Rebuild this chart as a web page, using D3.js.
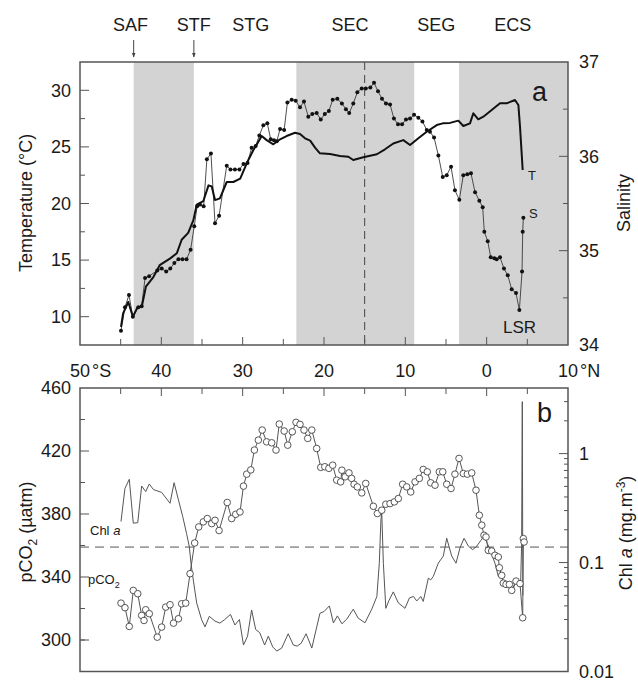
<!DOCTYPE html>
<html>
<head>
<meta charset="utf-8">
<script src="https://cdn.jsdelivr.net/npm/d3@7"></script>
<style>
  body { margin: 0; background: #fff; }
  text { font-family: "Liberation Sans", Arial, sans-serif; fill: #1a1a1a; }
</style>
</head>
<body>
<svg id="chart" width="638" height="681"></svg>
<script>
// ---- data (latitude: negative = south) ----
const tempLat = [-44.96,-44.7,-44.06,-43.5,-42.95,-42.4,-41.9,-40.98,-40.2,-38.9,-38.1,-37.5,-36.7,-36.07,-35.65,-34.84,-34.2,-33.8,-33.4,-32.8,-31.96,-31.15,-30.3,-29.5,-28.7,-28.3,-27.66,-27.05,-26.23,-25.4,-24.6,-23.56,-22.95,-22.33,-21.7,-21.1,-20.5,-19.26,-18.03,-17.0,-16.4,-15.17,-13.5,-12.5,-11.48,-10.25,-9.42,-8.4,-7.37,-6.14,-5.4,-4.5,-3.48,-2.87,-2.05,-1.64,-1.03,-0.41,0.62,1.64,2.46,3.48,3.9,4.1,4.43];
const tempC = [9.1,10.3,11.3,10.0,10.8,10.9,12.65,13.5,14.55,15.15,15.6,16.8,17.4,18.5,19.9,20.2,21.6,21.5,20.3,20.45,21.9,21.9,22.2,23.55,24.7,25.17,25.96,25.6,25.23,25.67,25.96,26.25,26.14,25.76,25.55,24.93,24.43,24.37,24.2,24.13,23.84,24.08,24.35,24.79,25.3,25.6,25.17,25.76,26.34,26.93,27.08,27.12,27.32,26.85,27.08,27.97,27.44,27.67,28.26,28.85,28.85,29.14,28.7,26.78,22.96];

const salLat = [-44.96,-44.47,-43.98,-43.5,-42.83,-42.42,-42.0,-41.5,-40.5,-39.96,-39.4,-38.9,-38.4,-37.9,-37.4,-36.9,-36.4,-35.95,-35.6,-35.25,-34.8,-34.4,-33.9,-33.4,-32.9,-31.96,-31.5,-30.95,-30.4,-29.9,-29.4,-28.9,-28.4,-27.95,-27.46,-26.97,-26.55,-26.15,-25.8,-25.4,-24.9,-24.5,-23.97,-23.48,-22.95,-22.46,-21.93,-21.44,-20.9,-20.4,-19.9,-19.4,-18.93,-18.36,-17.8,-17.3,-16.9,-16.4,-15.9,-15.36,-14.87,-14.3,-13.85,-13.36,-12.87,-12.38,-11.88,-11.4,-10.9,-10.4,-9.92,-9.42,-8.93,-8.4,-7.9,-7.37,-6.97,-6.47,-5.94,-5.4,-4.91,-4.38,-3.9,-3.36,-2.87,-2.38,-1.93,-1.43,-0.9,-0.49,-0.29,0.13,0.5,0.94,1.23,1.64,2.13,2.59,3.08,3.61,4.02,4.35,4.43,4.51];
const salPsu = [34.15,34.40,34.53,34.30,34.40,34.41,34.71,34.73,34.79,34.81,34.78,34.81,34.87,34.91,34.91,34.91,35.01,35.26,35.47,35.49,35.47,35.97,36.03,35.29,35.37,35.90,35.86,35.86,35.86,35.92,35.93,36.09,36.11,36.22,36.33,36.35,36.18,36.17,36.16,36.29,36.28,36.57,36.60,36.59,36.52,36.58,36.42,36.45,36.46,36.39,36.45,36.48,36.60,36.61,36.56,36.50,36.46,36.56,36.68,36.72,36.72,36.73,36.78,36.69,36.61,36.56,36.55,36.40,36.34,36.34,36.39,36.40,36.44,36.41,36.37,36.28,36.26,36.20,36.01,35.78,35.80,35.89,35.64,35.54,35.80,35.81,35.82,35.62,35.53,35.46,35.20,35.10,34.93,34.92,34.91,34.93,34.81,34.74,34.59,34.55,34.37,34.78,35.20,35.35];

const pco2Lat = [-44.96,-44.47,-43.94,-43.45,-42.9,-42.42,-42.13,-41.92,-41.48,-40.5,-39.96,-39.46,-38.93,-38.5,-37.9,-37.5,-37.0,-36.47,-35.9,-35.4,-34.84,-34.35,-33.8,-33.4,-32.9,-31.9,-31.35,-30.86,-30.33,-29.9,-29.5,-29.0,-28.56,-28.07,-27.6,-27.05,-26.43,-25.9,-25.5,-24.9,-24.46,-23.9,-23.44,-22.95,-22.46,-22.0,-21.5,-20.9,-20.4,-19.9,-19.4,-18.93,-18.44,-17.95,-17.8,-17.4,-16.93,-16.6,-16.3,-15.9,-15.36,-14.87,-13.93,-13.44,-12.9,-12.4,-11.88,-11.35,-10.86,-10.33,-9.83,-9.34,-8.8,-8.28,-7.8,-7.3,-6.88,-6.35,-5.82,-5.4,-4.91,-4.38,-3.9,-3.4,-2.87,-2.38,-1.84,-1.31,-0.9,-0.6,-0.33,-0.08,0.2,0.62,1.02,1.43,1.56,1.85,2.05,2.38,2.79,3.08,3.61,4.1,4.43,4.51,4.6];
const pco2Val = [323.4,320.5,308.6,331.5,329.4,315.6,312.4,319.2,316.7,301.8,308.2,320.9,322.4,310.7,313.5,323.0,323.4,342.1,361.6,371.8,375.0,377.1,373.9,376.0,369.5,387.3,377.1,379.8,381.3,397.7,405.3,408.0,420.6,426.9,433.3,425.8,425.2,420.6,437.1,432.7,423.7,432.2,438.2,436.9,433.3,428.0,433.3,421.6,409.6,410.0,409.0,411.0,401.5,400.4,407.8,403.6,406.1,402.6,398.9,397.2,393.4,399.4,384.9,380.3,382.4,386.2,386.6,387.7,389.8,398.9,397.2,394.0,400.4,402.6,408.3,406.8,399.8,398.3,406.8,406.8,398.9,396.2,405.3,415.3,405.7,405.3,406.1,395.1,379.2,372.9,366.5,365.4,356.9,356.5,353.8,352.7,345.9,341.0,336.1,335.3,335.3,331.5,337.4,335.8,314.1,364.4,362.2];

const chlLat = [-44.96,-44.47,-43.94,-43.45,-42.9,-42.42,-41.92,-41.48,-40.98,-39.96,-38.93,-38.43,-37.9,-37.37,-36.9,-36.56,-36.35,-36.07,-35.65,-35.04,-34.63,-34.1,-33.4,-32.8,-32.2,-31.5,-30.95,-30.4,-29.9,-29.4,-28.9,-28.4,-27.9,-27.3,-26.85,-26.3,-25.8,-25.2,-24.4,-23.77,-23.3,-22.8,-22.2,-21.5,-20.5,-20.0,-19.34,-18.84,-18.35,-17.8,-17.2,-16.4,-15.8,-14.96,-14.13,-13.5,-13.2,-13.0,-12.9,-12.7,-12.4,-12.0,-11.48,-10.86,-10.04,-9.5,-9.0,-8.6,-8.1,-7.8,-7.17,-6.88,-6.56,-5.95,-5.33,-4.91,-4.3,-3.77,-3.28,-2.78,-2.25,-1.72,-1.22,-0.73,-0.33,0.08,0.53,1.02,1.43,1.85,2.25,2.87,3.28,3.61,3.9,4.18,4.3,4.38,4.45];
const chlVal = [0.238,0.48,0.581,0.230,0.232,0.504,0.448,0.526,0.468,0.440,0.35,0.541,0.377,0.264,0.185,0.140,0.0977,0.069,0.0424,0.0298,0.0257,0.0321,0.0290,0.0278,0.0300,0.0334,0.0267,0.0300,0.0175,0.0211,0.0367,0.0243,0.0227,0.0175,0.0211,0.0168,0.0154,0.0164,0.0222,0.0175,0.0171,0.0182,0.0222,0.0164,0.0342,0.0355,0.0400,0.0279,0.0324,0.0274,0.0302,0.0373,0.0309,0.0280,0.0373,0.0488,0.0986,0.246,0.293,0.0986,0.0380,0.0451,0.0538,0.0426,0.038,0.0473,0.0488,0.0444,0.0488,0.044,0.0719,0.0693,0.0746,0.0986,0.1148,0.167,0.1148,0.0986,0.1364,0.167,0.1415,0.1313,0.1415,0.159,0.174,0.150,0.125,0.0986,0.0746,0.0719,0.0644,0.0594,0.0575,0.0693,0.0667,0.0655,0.15,3.0,0.05];

// zones and fronts
const bandLat = [[-43.4, -36.0], [-23.4, -8.9], [-3.4, 10]];
const zoneNames = ["SAF", "STF", "STG", "SEC", "SEG", "ECS"];
const zoneLat = [-43.8, -36.0, -29.0, -16.8, -6.2, 3.2];
const arrowLat = [-43.4, -36.0];
const eqDashLat = -15;       // vertical dashed line, panel a
const atmCO2 = 359;          // horizontal dashed line, panel b

const xTicks = [-50, -40, -30, -20, -10, 0, 10];
const tTicks = [10, 15, 20, 25, 30];
const sTicks = [34, 35, 36, 37];
const pTicks = [300, 340, 380, 420, 460];
const cTicks = [0.01, 0.1, 1];

// ---- layout ----
const svg = d3.select("#chart");
const L = 80, R = 568;
const aTop = 62, aBot = 345, bTop = 388, bBot = 671.5;
const frameCol = "#555";

const x = d3.scaleLinear().domain([-50, 10]).range([L, R]);
const yT = d3.scaleLinear().domain([7.5, 32.5]).range([aBot, aTop]);
const yS = d3.scaleLinear().domain([34, 37]).range([aBot, aTop]);
const yP = d3.scaleLinear().domain([280, 460]).range([bBot, bTop]);
const yC = d3.scaleLog().domain([0.01, 4]).range([bBot, bTop]);

// grey zone bands (panel a)
svg.append("g").selectAll("rect")
  .data(bandLat).enter().append("rect")
  .attr("x", d => x(d[0]))
  .attr("y", aTop)
  .attr("width", d => x(d[1]) - x(d[0]))
  .attr("height", aBot - aTop)
  .attr("fill", "#d3d3d3");

// dashed lines
svg.append("line")
  .attr("x1", x(eqDashLat)).attr("x2", x(eqDashLat))
  .attr("y1", aTop).attr("y2", aBot)
  .attr("stroke", "#444").attr("stroke-width", 1)
  .attr("stroke-dasharray", "8,5");
svg.append("line")
  .attr("x1", L).attr("x2", R)
  .attr("y1", yP(atmCO2)).attr("y2", yP(atmCO2))
  .attr("stroke", "#555").attr("stroke-width", 1)
  .attr("stroke-dasharray", "9,6");

// helper: inward ticks (no labels)
function ticksY(g, scale, vals, xPos, len) {
  g.selectAll(null).data(vals).enter().append("line")
    .attr("x1", xPos).attr("x2", xPos + len)
    .attr("y1", d => scale(d)).attr("y2", d => scale(d))
    .attr("stroke", frameCol).attr("stroke-width", 1);
}
function ticksX(g, vals, yPos, len) {
  g.selectAll(null).data(vals).enter().append("line")
    .attr("x1", d => x(d)).attr("x2", d => x(d))
    .attr("y1", yPos).attr("y2", yPos + len)
    .attr("stroke", frameCol).attr("stroke-width", 1);
}

const ax = svg.append("g");
// panel a axes
const xMinor = d3.range(-45, 10, 5).filter(v => v % 10 !== 0);
const xMajor = d3.range(-40, 10, 10);
ticksX(ax, xMajor, aBot, -8);
ticksX(ax, xMinor, aBot, -6);
ticksX(ax, xMajor, bTop, 8);
ticksX(ax, xMinor, bTop, 6);

ticksY(ax, yT, tTicks, L, 9);
ticksY(ax, yT, [12.5, 17.5, 22.5, 27.5], L, 5);
ticksY(ax, yS, [35, 36], R, -9);
ticksY(ax, yS, [34.5, 35.5, 36.5], R, -5);
// panel b axes
ticksY(ax, yP, [300, 340, 380, 420], L, 9);
ticksY(ax, yP, [300, 320, 360, 400, 440], L, 5);
ticksY(ax, yC, [0.1, 1], R, -9);
const cMinor = [];
[0.01, 0.1, 1].forEach(b => d3.range(2, 10).forEach(k => { if (b * k < 4) cMinor.push(b * k); }));
ticksY(ax, yC, cMinor, R, -4);

// tick labels
const fs = 18;
function leftLabels(scale, vals) {
  ax.selectAll(null).data(vals).enter().append("text")
    .attr("x", L - 9).attr("y", d => scale(d)).attr("dy", "0.35em")
    .attr("text-anchor", "end").attr("font-size", fs)
    .text(d => d);
}
function rightLabels(scale, vals) {
  ax.selectAll(null).data(vals).enter().append("text")
    .attr("x", R + 11).attr("y", d => scale(d)).attr("dy", "0.35em")
    .attr("text-anchor", "start").attr("font-size", fs)
    .text(d => d);
}
leftLabels(yT, tTicks);
rightLabels(yS, sTicks);
leftLabels(yP, pTicks);
rightLabels(yC, cTicks);

// latitude labels between panels: number centred on tick, hemisphere appended
xTicks.forEach(v => {
  const num = String(Math.abs(v));
  const t = ax.append("text")
    .attr("y", 377).attr("font-size", fs).text(num);
  const w = t.node().getComputedTextLength();
  t.attr("x", x(v) - w / 2);
  if (v !== xTicks[0] && v !== xTicks[xTicks.length - 1]) return;
  ax.append("text")
    .attr("x", x(v) + w / 2 + 2).attr("y", 377).attr("font-size", fs)
    .text(v < 0 ? "°S" : "°N");
});

// axis titles
function vTitle(cx, cy, build) {
  const t = svg.append("text")
    .attr("transform", `translate(${cx},${cy}) rotate(-90)`)
    .attr("text-anchor", "middle").attr("font-size", fs);
  build(t);
}
vTitle(32, 203, t => t.text("Temperature (°C)"));
vTitle(630, 203, t => t.text("Salinity"));
vTitle(32, 532, t => {
  t.append("tspan").text("pCO");
  t.append("tspan").attr("font-size", 12).attr("dy", 5).text("2");
  t.append("tspan").attr("dy", -5).text(" (µatm)");
});
vTitle(632, 533, t => {
  t.append("tspan").text("Chl ");
  t.append("tspan").attr("font-style", "italic").text("a");
  t.append("tspan").text(" (mg.m");
  t.append("tspan").attr("font-size", 12).attr("dy", -7).text("-3");
  t.append("tspan").attr("dy", 7).text(")");
});

// zone labels and arrows
svg.append("defs").append("marker")
  .attr("id", "arr").attr("viewBox", "0 0 10 10")
  .attr("refX", 9).attr("refY", 5)
  .attr("markerWidth", 5).attr("markerHeight", 6)
  .attr("orient", "auto")
  .append("path").attr("d", "M0,1 L10,5 L0,9 Z").attr("fill", "#444");
svg.selectAll(".zone").data(zoneNames).enter().append("text")
  .attr("class", "zone")
  .attr("x", (d, i) => x(zoneLat[i])).attr("y", 31)
  .attr("text-anchor", "middle").attr("font-size", fs)
  .text(d => d);
arrowLat.forEach(v => {
  svg.append("line")
    .attr("x1", x(v)).attr("x2", x(v))
    .attr("y1", 40).attr("y2", 57)
    .attr("stroke", "#444").attr("stroke-width", 1)
    .attr("marker-end", "url(#arr)");
});

// ---- panel a series ----
const salData = salLat.map((d, i) => [d, salPsu[i]]);
const tempData = tempLat.map((d, i) => [d, tempC[i]]);

svg.append("path")
  .datum(salData)
  .attr("d", d3.line().x(d => x(d[0])).y(d => yS(d[1])))
  .attr("fill", "none").attr("stroke", "#3a3a3a").attr("stroke-width", 0.9);
svg.append("g").selectAll("circle")
  .data(salData).enter().append("circle")
  .attr("cx", d => x(d[0])).attr("cy", d => yS(d[1]))
  .attr("r", 2).attr("fill", "#111");

svg.append("path")
  .datum(tempData)
  .attr("d", d3.line().x(d => x(d[0])).y(d => yT(d[1])))
  .attr("fill", "none").attr("stroke", "#111").attr("stroke-width", 2)
  .attr("stroke-linejoin", "round");

// ---- panel b series ----
const chlData = chlLat.map((d, i) => [d, chlVal[i]]);
const pco2Data = pco2Lat.map((d, i) => [d, pco2Val[i]]);

svg.append("path")
  .datum(chlData)
  .attr("d", d3.line().x(d => x(d[0])).y(d => yC(d[1])))
  .attr("fill", "none").attr("stroke", "#555").attr("stroke-width", 1);

svg.append("path")
  .datum(pco2Data)
  .attr("d", d3.line().x(d => x(d[0])).y(d => yP(d[1])))
  .attr("fill", "none").attr("stroke", "#555").attr("stroke-width", 1);
svg.append("g").selectAll("circle")
  .data(pco2Data).enter().append("circle")
  .attr("cx", d => x(d[0])).attr("cy", d => yP(d[1]))
  .attr("r", 3.3).attr("fill", "#fff")
  .attr("stroke", "#444").attr("stroke-width", 0.9);

// frames
[[aTop, aBot], [bTop, bBot]].forEach(p => {
  svg.append("rect")
    .attr("x", L).attr("y", p[0])
    .attr("width", R - L).attr("height", p[1] - p[0])
    .attr("fill", "none").attr("stroke", frameCol).attr("stroke-width", 1.5);
});

// in-plot labels
svg.append("text").attr("x", 532).attr("y", 101).attr("font-size", 27).text("a");
svg.append("text").attr("x", 537).attr("y", 422).attr("font-size", 27).text("b");
svg.append("text").attr("x", 528).attr("y", 180).attr("font-size", 13).text("T");
svg.append("text").attr("x", 529).attr("y", 218).attr("font-size", 13).text("S");
svg.append("text").attr("x", 503).attr("y", 333).attr("font-size", 17).text("LSR");

const chlLbl = svg.append("text").attr("x", 90).attr("y", 535).attr("font-size", 13);
chlLbl.append("tspan").text("Chl ");
chlLbl.append("tspan").attr("font-style", "italic").text("a");
const pLbl = svg.append("text").attr("x", 88).attr("y", 584).attr("font-size", 13);
pLbl.append("tspan").text("pCO");
pLbl.append("tspan").attr("font-size", 9).attr("dy", 4).text("2");
</script>
</body>
</html>
